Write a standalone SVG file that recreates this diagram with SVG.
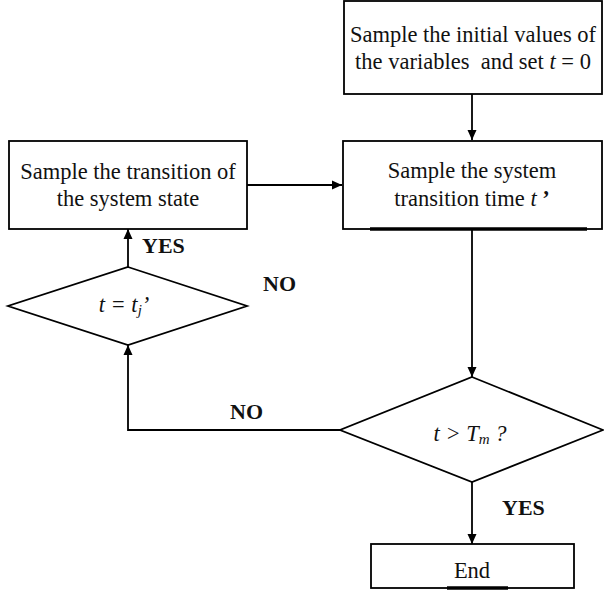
<svg xmlns="http://www.w3.org/2000/svg" width="604" height="602" viewBox="0 0 604 602">
  <style>
    .box { fill: #ffffff; stroke: #000000; stroke-width: 1.8; }
    .edge { fill: none; stroke: #000000; stroke-width: 1.8; }
    .heavy { stroke: #000000; stroke-width: 3.5; }
    .txt { font-family: "Liberation Serif", "Times New Roman", serif; font-size: 22.5px; fill: #111111; text-anchor: middle; }
    .lbl { font-family: "Liberation Serif", "Times New Roman", serif; font-size: 22px; font-weight: bold; fill: #111111; }
    .it { font-style: italic; }
  </style>
  <defs>
    <marker id="arrow" viewBox="0 0 10 10" refX="10" refY="5" markerWidth="10" markerHeight="10" markerUnits="userSpaceOnUse" orient="auto">
      <path d="M0,0.5 L10,5 L0,9.5 Z" fill="#000000"/>
    </marker>
  </defs>

  <!-- connectors -->
  <g id="connectors">
    <line class="edge" x1="472" y1="94" x2="472" y2="140" marker-end="url(#arrow)"/>
    <line class="edge" x1="247" y1="185" x2="342" y2="185" marker-end="url(#arrow)"/>
    <line class="edge" x1="472" y1="229" x2="472" y2="377" marker-end="url(#arrow)"/>
    <line class="edge" x1="472" y1="482" x2="472" y2="544" marker-end="url(#arrow)"/>
    <polyline class="edge" points="340,430 128,430 128,345" marker-end="url(#arrow)"/>
    <line class="edge" x1="128" y1="267" x2="128" y2="229" marker-end="url(#arrow)"/>
    <text class="lbl" x="142" y="253">YES</text>
    <text class="lbl" x="263" y="291">NO</text>
    <text class="lbl" x="230" y="419">NO</text>
    <text class="lbl" x="502" y="515">YES</text>
  </g>

  <!-- start -->
  <g id="init">
    <rect class="box" x="344" y="1" width="258" height="93"/>
    <text class="txt" x="473" y="42">Sample the initial values of</text>
    <text class="txt" x="473" y="69" xml:space="preserve">the variables  and set <tspan class="it">t</tspan> = 0</text>
  </g>

  <g id="sample-time">
    <rect class="box" x="343" y="141" width="259" height="88"/>
    <line class="heavy" x1="370" y1="229" x2="587" y2="229"/>
    <text class="txt" x="472" y="178">Sample the system</text>
    <text class="txt" x="472" y="206">transition time <tspan class="it">t</tspan><tspan font-weight="bold"> ’</tspan></text>
  </g>

  <g id="sample-state">
    <rect class="box" x="9" y="141" width="238" height="88"/>
    <text class="txt" x="128" y="179">Sample the transition of</text>
    <text class="txt" x="128" y="206">the system state</text>
  </g>

  <g id="check-tj">
    <polygon class="box" points="128,267 247,306 128,345 8,306"/>
    <text class="txt it" x="124" y="312" font-size="20">t = t<tspan font-size="15" dy="3">j</tspan><tspan dy="-3">’</tspan></text>
  </g>

  <g id="check-tm">
    <polygon class="box" points="472,377 603,430 472,482 340,430"/>
    <text class="txt it" x="470" y="441" font-size="20">t &gt; T<tspan font-size="15" dy="3">m</tspan><tspan dy="-3"> ?</tspan></text>
  </g>

  <g id="end">
    <rect class="box" x="371" y="544" width="203" height="44"/>
    <line class="heavy" x1="447" y1="588" x2="508" y2="588"/>
    <text class="txt" x="472" y="578">End</text>
  </g>
</svg>
